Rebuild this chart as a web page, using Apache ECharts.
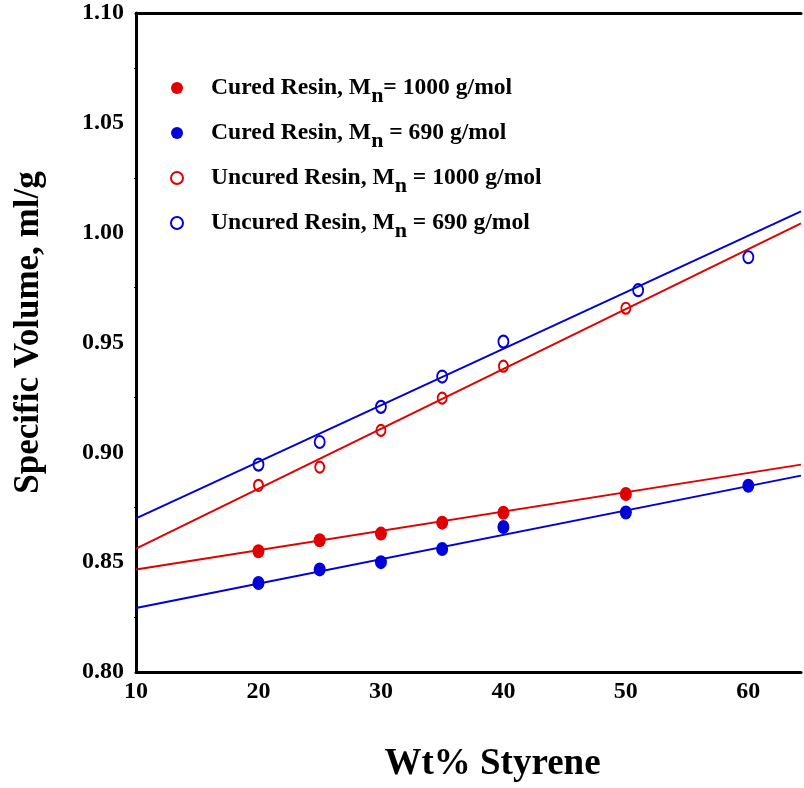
<!DOCTYPE html>
<html>
<head>
<meta charset="utf-8">
<script src="https://cdn.jsdelivr.net/npm/echarts@6/dist/echarts.min.js"></script>
<style>html,body{margin:0;padding:0;background:#fff}#c{width:804px;height:788px}</style>
</head>
<body>
<div id="c"></div>
<script>
// ---- data ----
const xCured1000 = [20, 25, 30, 35, 40, 50];
const yCured1000 = [0.855, 0.860, 0.863, 0.868, 0.8725, 0.881];
const xCured690 = [20, 25, 30, 35, 40, 50, 60];
const yCured690 = [0.8405, 0.8467, 0.850, 0.856, 0.866, 0.8726, 0.8848];
const xUncured1000 = [20, 25, 30, 35, 40, 50];
const yUncured1000 = [0.885, 0.8933, 0.910, 0.9247, 0.9392, 0.9656];
const xUncured690 = [20, 25, 30, 35, 40, 51, 60];
const yUncured690 = [0.8944, 0.9047, 0.9207, 0.9345, 0.9504, 0.9738, 0.9888];
// fitted lines (end points)
const fitX = [10, 64.3];
const fitCured1000 = [0.8467, 0.8944];
const fitCured690 = [0.8291, 0.8894];
const fitUncured1000 = [0.8562, 1.0042];
const fitUncured690 = [0.8699, 1.0097];
const xTicks = [10, 20, 30, 40, 50, 60];
const yTicks = [0.80, 0.85, 0.90, 0.95, 1.00, 1.05, 1.10];

const RED = '#e00000', BLUE = '#0000d8';
const pair = (xs, ys) => xs.map((x, i) => [x, ys[i]]);
const FONT = '"Liberation Serif","Times New Roman",serif';

const legendLabels = {
  c1000: '{t|Cured Resin, M}{s|n}{t|= 1000 g/mol}',
  c690: '{t|Cured Resin, M}{s|n}{t| = 690 g/mol}',
  u1000: '{t|Uncured Resin, M}{s|n}{t| = 1000 g/mol}',
  u690: '{t|Uncured Resin, M}{s|n}{t| = 690 g/mol}'
};

const chart = echarts.init(document.getElementById('c'), null, {renderer: 'canvas'});
const lineSeries = (data, color) => ({
  type: 'line', data: pair(fitX, data), symbol: 'none', silent: true,
  lineStyle: {color: color, width: 2}, z: 1, legendHoverLink: false
});
chart.setOption({
  animation: false,
  backgroundColor: '#fff',
  grid: {left: 136, top: 13, right: 0, bottom: 114, containLabel: false},
  legend: {
    orient: 'vertical', left: 165, top: 71, itemGap: 14,
    itemWidth: 12, itemHeight: 14, icon: 'circle',
    data: ['c1000', 'c690', 'u1000', 'u690'],
    formatter: n => legendLabels[n],
    textStyle: {
      padding: [0, 0, 0, 23],
      rich: {
        t: {fontFamily: FONT, fontWeight: 'bold', fontSize: 23.6, color: '#000'},
        s: {fontFamily: FONT, fontWeight: 'bold', fontSize: 22, color: '#000', padding: [16, 0, 0, 0]}
      }
    }
  },
  xAxis: [{
    type: 'value', min: 10, max: 64.3, interval: 10,
    axisLine: {show: true, lineStyle: {color: '#000', width: 3}},
    axisTick: {show: false}, splitLine: {show: false},
    axisLabel: {
      color: '#000', fontFamily: FONT, fontWeight: 'bold', fontSize: 24, margin: 8,
      formatter: v => xTicks.includes(v) ? String(v) : ''
    },
    name: 'Wt% Styrene', nameLocation: 'middle', nameGap: 74,
    nameTextStyle: {color: '#000', fontFamily: FONT, fontWeight: 'bold', fontSize: 37, padding: [0, 0, 0, 48]}
  }, {
    type: 'value', position: 'top', min: 10, max: 64.3,
    axisLine: {show: true, onZero: false, lineStyle: {color: '#000', width: 3}},
    axisTick: {show: false}, axisLabel: {show: false}, splitLine: {show: false}
  }],
  yAxis: {
    type: 'value', min: 0.8, max: 1.1, interval: 0.05,
    axisLine: {show: true, lineStyle: {color: '#000', width: 3}},
    axisTick: {show: false},
    minorTick: {show: true, splitNumber: 2, length: 2, lineStyle: {color: '#000', width: 1}},
    splitLine: {show: false},
    axisLabel: {
      color: '#000', fontFamily: FONT, fontWeight: 'bold', fontSize: 24, margin: 12,
      formatter: v => yTicks.some(t => Math.abs(t - v) < 1e-9) ? v.toFixed(2) : ''
    },
    name: 'Specific Volume, ml/g', nameLocation: 'middle', nameGap: 90,
    nameTextStyle: {color: '#000', fontFamily: FONT, fontWeight: 'bold', fontSize: 35, padding: [0, 0, 0, 20]}
  },
  series: [
    lineSeries(fitCured1000, RED),
    lineSeries(fitCured690, BLUE),
    lineSeries(fitUncured1000, RED),
    lineSeries(fitUncured690, BLUE),
    {name: 'c1000', type: 'scatter', data: pair(xCured1000, yCured1000), symbol: 'circle', symbolSize: [12, 14],
     itemStyle: {color: RED, opacity: 1}, z: 3},
    {name: 'c690', type: 'scatter', data: pair(xCured690, yCured690), symbol: 'circle', symbolSize: [12, 14],
     itemStyle: {color: BLUE, opacity: 1}, z: 3},
    {name: 'u1000', type: 'scatter', data: pair(xUncured1000, yUncured1000), symbol: 'circle', symbolSize: [9, 11],
     itemStyle: {color: 'rgba(255,255,255,0)', borderColor: RED, borderWidth: 2, opacity: 1}, z: 3},
    {name: 'u690', type: 'scatter', data: pair(xUncured690, yUncured690), symbol: 'circle', symbolSize: [10, 12],
     itemStyle: {color: 'rgba(255,255,255,0)', borderColor: BLUE, borderWidth: 2, opacity: 1}, z: 3}
  ]
});
</script>
</body>
</html>
